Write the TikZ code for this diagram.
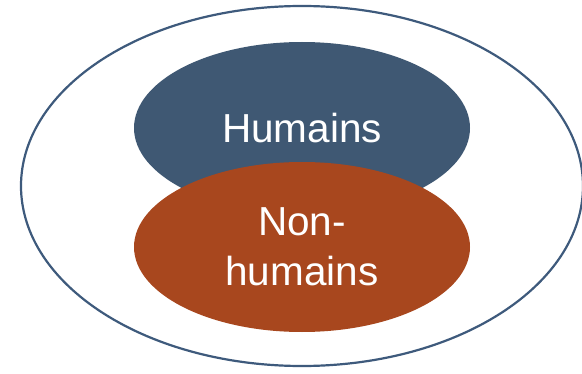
\documentclass[tikz,border=0pt]{standalone}
\usepackage{fontspec}
\setmainfont{Liberation Sans}
\usetikzlibrary{shapes.geometric}
\definecolor{outerblue}{HTML}{3E5A7C}
\definecolor{humblue}{HTML}{3F5873}
\definecolor{nonorange}{HTML}{A8471E}
\tikzset{
  setbox/.style={ellipse, inner sep=0pt, text=white, align=center,
    font=\fontsize{40.5}{50}\selectfont},
}
\begin{document}
\begin{tikzpicture}[x=1pt,y=1pt]
\useasboundingbox (0,0) rectangle (582,373);
\node[ellipse, draw=outerblue, line width=2.2pt, fill=white,
      minimum width=562pt, minimum height=360pt] (outer) at (302,187) {};
\node[setbox, fill=humblue, minimum width=336pt, minimum height=172pt]
      (hum) at (302,245) {Humains};
\node[setbox, fill=nonorange, minimum width=336pt, minimum height=170pt]
      (non) at (302,126) {Non-\\humains};
\end{tikzpicture}
\end{document}
